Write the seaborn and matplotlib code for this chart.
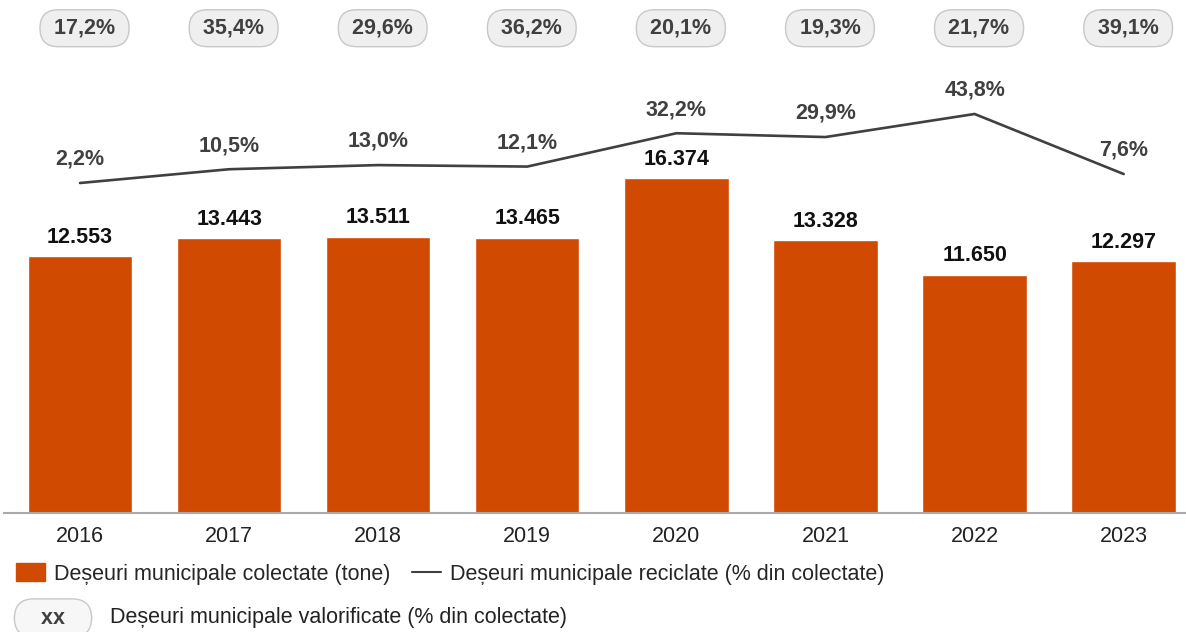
import numpy as np
import pandas as pd
import matplotlib
matplotlib.use("Agg")
import matplotlib.pyplot as plt
import seaborn as sns
from matplotlib.patches import Patch
from matplotlib.lines import Line2D

# data
years = ["2016", "2017", "2018", "2019", "2020", "2021", "2022", "2023"]
colectate = [12553, 13443, 13511, 13465, 16374, 13328, 11650, 12297]
reciclate = [2.2, 10.5, 13.0, 12.1, 32.2, 29.9, 43.8, 7.6]
valorificate = [17.2, 35.4, 29.6, 36.2, 20.1, 19.3, 21.7, 39.1]

ORANGE = "#D04A02"
DARK = "#404040"
FS = 15.5

sns.set_style("white")
plt.rcParams["font.family"] = ["Liberation Sans", "DejaVu Sans"]

df = pd.DataFrame({"an": years, "colectate": colectate, "reciclate": reciclate})
df["pos"] = np.arange(len(years))

fig = plt.figure(figsize=(11.86, 6.32), dpi=100)
ax = fig.add_axes([4 / 1186, 119 / 632, 1182 / 1186, 513 / 632])

# bars
sns.barplot(data=df, x="an", y="colectate", color=ORANGE, width=0.7,
            saturation=1, ax=ax)
ax.set_xlim(-0.51, 7.418)
ax.set_ylim(0, 25073)
ax.bar_label(ax.containers[0],
             labels=[f"{v:,}".replace(",", ".") for v in colectate],
             padding=6, fontsize=FS, fontweight="bold", color="#111111")

ax.set_xlabel("")
ax.set_ylabel("")
ax.set_yticks([])
ax.tick_params(axis="x", length=0, pad=9, labelsize=FS, labelcolor="#222222")
for s in ["top", "left", "right"]:
    ax.spines[s].set_visible(False)
ax.spines["bottom"].set_color("#aaaaaa")
ax.spines["bottom"].set_linewidth(1.5)

# recycled line on a second axis
ax2 = ax.twinx()
sns.lineplot(data=df, x="pos", y="reciclate", color=DARK, linewidth=1.9, ax=ax2)
ax2.set_ylim(-196.7, 112.5)
ax2.set_xlim(-0.51, 7.418)
ax2.set_yticks([])
ax2.set_ylabel("")
ax2.set_xlabel("")
for s in ax2.spines.values():
    s.set_visible(False)
for i, v in enumerate(reciclate):
    ax2.annotate(f"{v:.1f}".replace(".", ",") + "%", (i, v),
                 xytext=(0, 17), textcoords="offset points",
                 ha="center", va="center", fontsize=FS,
                 fontweight="bold", color=DARK)

# valorised badges on top
for i, v in enumerate(valorificate):
    ax.text(i + 0.03, 0.945, " " + f"{v:.1f}".replace(".", ",") + "% ",
            transform=ax.get_xaxis_transform(), ha="center", va="center",
            fontsize=FS, fontweight="bold", color=DARK,
            bbox=dict(boxstyle="round,pad=0.37,rounding_size=0.85",
                      fc="#efefef", ec="#c8c8c8", lw=1))

# legend
handles = [Patch(color=ORANGE, label="Deșeuri municipale colectate (tone)"),
           Line2D([], [], color=DARK, lw=1.5,
                  label="Deșeuri municipale reciclate (% din colectate)")]
fig.legend(handles=handles, loc="center left", bbox_to_anchor=(16 / 1186, 1 - 574 / 632),
           ncol=2, frameon=False, fontsize=FS, handlelength=1.35, handleheight=0.9,
           handletextpad=0.42, columnspacing=1.0, borderaxespad=0, borderpad=0)
fig.text(53 / 1186, 1 - 618 / 632, "   xx   ", ha="center", va="center",
         fontsize=FS, fontweight="bold", color=DARK,
         bbox=dict(boxstyle="round,pad=0.4,rounding_size=0.9",
                   fc="#f7f7f7", ec="#c8c8c8", lw=1))
fig.text(110 / 1186, 1 - 618 / 632, "Deșeuri municipale valorificate (% din colectate)",
         ha="left", va="center", fontsize=FS, color="#222222")

fig.savefig("out.png", dpi=100)
